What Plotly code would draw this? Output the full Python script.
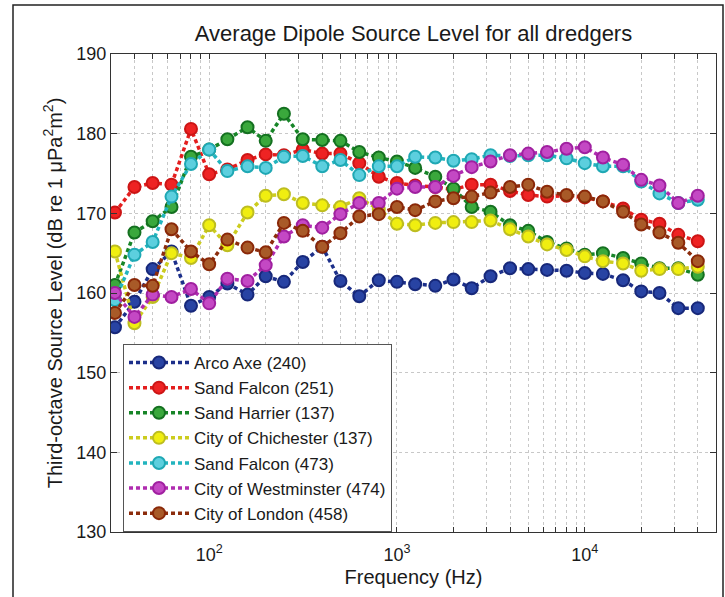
import numpy as np
import plotly.graph_objects as go

freqs = [31.5, 40, 50, 63, 80, 100, 125, 160, 200, 250, 315, 400, 500, 630, 800,
         1000, 1250, 1600, 2000, 2500, 3150, 4000, 5000, 6300, 8000, 10000,
         12500, 16000, 20000, 25000, 31500, 40000]

arco_axe_240 = [155.7, 158.9, 163.0, 165.2, 158.4, 159.5, 161.2, 159.8, 162.1, 161.4, 163.9,
                165.8, 161.5, 159.6, 161.6, 161.4, 161.1, 160.9, 161.7, 160.6, 162.1, 163.1,
                163.0, 162.9, 162.8, 162.5, 162.4, 161.6, 160.2, 160.0, 158.1, 158.1]
sand_falcon_251 = [170.1, 173.3, 173.8, 173.6, 180.6, 174.9, 175.5, 176.7, 177.4, 177.3, 178.0,
                   177.5, 177.5, 176.3, 174.6, 173.8, 173.5, 173.3, 173.0, 173.6, 173.6, 172.8,
                   172.3, 172.1, 172.2, 172.0, 171.5, 170.6, 169.2, 168.7, 167.3, 166.5]
sand_harrier_137 = [161.0, 167.6, 169.0, 170.8, 177.1, 178.0, 179.3, 180.8, 179.1, 182.5, 179.3,
                    179.2, 179.1, 177.7, 177.0, 176.5, 175.7, 174.6, 173.1, 170.8, 170.2, 168.5,
                    167.8, 166.4, 165.6, 164.8, 165.0, 164.4, 163.7, 163.1, 163.1, 162.3]
chichester_137 = [165.2, 156.2, 159.5, 165.0, 164.4, 168.5, 166.0, 170.1, 172.2, 172.4, 171.3,
                  171.0, 170.8, 171.9, 170.5, 168.7, 168.5, 168.8, 168.9, 168.9, 169.1, 168.0,
                  167.1, 166.1, 165.4, 164.6, 164.0, 163.7, 162.8, 163.0, 163.0, 163.3]
sand_falcon_473 = [159.1, 164.8, 166.4, 172.1, 176.2, 178.0, 175.3, 175.9, 175.7, 177.1, 177.2,
                   175.9, 176.7, 174.8, 175.9, 175.9, 177.1, 177.0, 176.6, 176.8, 177.3, 177.2,
                   177.3, 177.3, 176.9, 176.3, 175.9, 175.9, 174.0, 172.5, 171.3, 171.7]
westminster_474 = [160.0, 157.0, 159.8, 159.5, 160.5, 158.7, 161.8, 161.5, 163.5, 167.1, 168.5,
                   168.2, 169.9, 171.3, 171.3, 173.1, 173.3, 173.3, 174.7, 175.8, 176.5, 177.3,
                   177.5, 177.7, 178.1, 178.3, 177.0, 176.1, 174.2, 173.5, 171.3, 172.2]
london_458 = [157.5, 161.0, 160.9, 168.0, 165.2, 163.6, 166.7, 165.7, 165.1, 168.8, 167.8,
              165.8, 167.5, 169.6, 169.9, 170.8, 170.4, 171.5, 171.9, 172.1, 172.6, 173.3,
              173.6, 172.7, 172.3, 172.1, 171.5, 170.2, 168.6, 167.6, 166.3, 164.0]

series_names = ["Arco Axe (240)", "Sand Falcon (251)", "Sand Harrier (137)",
                "City of Chichester (137)", "Sand Falcon (473)",
                "City of Westminster (474)", "City of London (458)"]
series_values = [arco_axe_240, sand_falcon_251, sand_harrier_137, chichester_137,
                 sand_falcon_473, westminster_474, london_458]
# (line colour, marker face, marker edge)
series_colors = [("#1c2f8a", "#2843a3", "#17287a"),
                 ("#e41e1e", "#ee2323", "#cc1515"),
                 ("#178528", "#3aa83c", "#147020"),
                 ("#cccc1e", "#f0ee10", "#bdbd20"),
                 ("#22b4be", "#5ccfde", "#1fa8b4"),
                 ("#b02cb0", "#c448c4", "#a020a0"),
                 ("#8c2c0c", "#a85a28", "#8a2808")]

fig = go.Figure()
for name, vals, (lc, fc, ec) in zip(series_names, series_values, series_colors):
    fig.add_trace(go.Scatter(
        x=freqs, y=vals, name=name, mode="lines+markers",
        line=dict(color=lc, width=3.5, dash="4px,3px"),
        marker=dict(symbol="circle", size=12, color=fc, line=dict(color=ec, width=2)),
    ))

# tick positions on log axis: all 1..9 multiples within range
xticks = []
for d in [10, 100, 1000, 10000]:
    for m in range(1, 10):
        v = m * d
        if 30 <= v <= 50000:
            xticks.append(v)
xtext = ["10<sup>%d</sup>" % int(round(np.log10(v))) if v in (100, 1000, 10000) else ""
         for v in xticks]

W, H = 725, 597
ml, mr, mt, mb = 111, 9, 54, 65
pw, ph = W - ml - mr, H - mt - mb

def px_x(p):
    return (p - ml) / pw

def px_y(p):
    return (H - mb - p) / ph

fig.update_layout(
    width=W, height=H,
    margin=dict(l=ml, r=mr, t=mt, b=mb, pad=0, autoexpand=False),
    paper_bgcolor="white", plot_bgcolor="white",
    font=dict(family="Liberation Sans, Arial, sans-serif", size=18, color="#1a1a1a"),
    title=dict(text="Average Dipole Source Level for all dredgers",
               xref="paper", x=0.5, xanchor="center",
               yref="container", y=1 - 33 / H, yanchor="middle",
               font=dict(size=22, color="#1a1a1a")),
    showlegend=True,
    legend=dict(x=px_x(123), y=px_y(344), xanchor="left", yanchor="top",
                bgcolor="white", bordercolor="#555", borderwidth=1,
                font=dict(size=17, color="#1a1a1a"), itemwidth=60),
    xaxis=dict(type="log", range=[np.log10(30), np.log10(50000)],
               tickvals=xticks, ticktext=xtext, ticks="inside", ticklen=5,
               tickcolor="#333", showline=True, linecolor="#333", linewidth=1,
               mirror="allticks", showgrid=True, gridcolor="#c8c8c8",
               griddash="dot", gridwidth=1, zeroline=False, automargin=False,
               ticklabelstandoff=6,
               tickfont=dict(size=18, color="#1a1a1a"),
               title=dict(text="Frequency (Hz)", font=dict(size=20, color="#1a1a1a"),
                          standoff=6)),
    yaxis=dict(range=[130, 190], tickvals=[130, 140, 150, 160, 170, 180, 190],
               ticks="inside", ticklen=6, tickcolor="#333", showline=True,
               linecolor="#333", linewidth=1, mirror="allticks", showgrid=True,
               gridcolor="#c8c8c8", griddash="dot", gridwidth=1, zeroline=False,
               automargin=False,
               tickfont=dict(size=18, color="#1a1a1a"),
               title=dict(text="Third-octave Source Level (dB re 1 \u03bcPa<sup>2</sup>m<sup>2</sup>)",
                          font=dict(size=20, color="#1a1a1a"), standoff=8)),
    shapes=[dict(type="rect", xref="paper", yref="paper",
                 x0=px_x(13), x1=px_x(723), y0=px_y(605), y1=px_y(5),
                 line=dict(color="#222", width=1.5), fillcolor="rgba(0,0,0,0)",
                 layer="below")],
)

fig.write_html("out.html", config={"displayModeBar": False},
               post_script="document.body.style.margin='0';")
